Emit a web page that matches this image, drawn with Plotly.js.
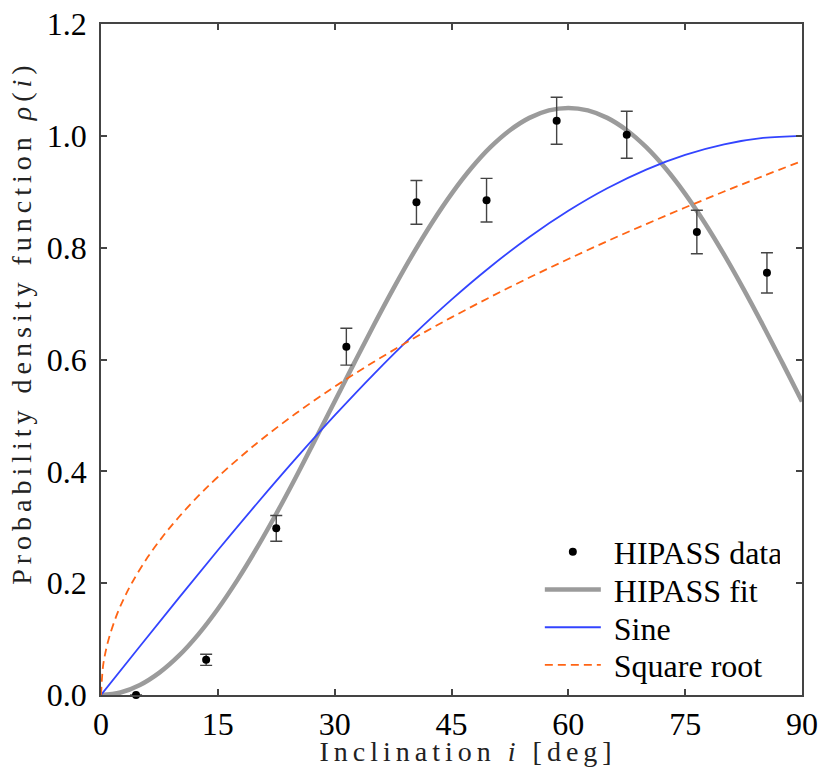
<!DOCTYPE html>
<html>
<head>
<meta charset="utf-8">
<script src="https://cdn.plot.ly/plotly-3.0.1.min.js"></script>
<style>
  html, body { margin: 0; padding: 0; background: #fff; }
  #chart { width: 830px; height: 777px; }
</style>
</head>
<body>
<div id="chart"></div>
<script>
// HIPASS binned data (inclination bin centres, density, 1-sigma error)
const dataIncl = [4.5, 13.5, 22.5, 31.5, 40.5, 49.5, 58.5, 67.5, 76.5, 85.5];
const dataRho  = [0.000, 0.063, 0.298, 0.623, 0.881, 0.885, 1.027, 1.002, 0.828, 0.755];
const dataErr  = [0.000, 0.010, 0.023, 0.033, 0.039, 0.039, 0.042, 0.042, 0.039, 0.036];

// HIPASS fit curve
const fitIncl = [0, 2.5, 5, 7.5, 10, 12.5, 15, 17.5, 20, 22.5, 25, 27.5, 30, 32.5, 35, 37.5,
                 40, 42.5, 45, 47.5, 50, 52.5, 55, 57.5, 60, 62.5, 65, 67.5, 70, 72.5, 75,
                 77.5, 80, 82.5, 85, 87.5, 90];
const fitRho  = [0, 0.0045, 0.0179, 0.0400, 0.0703, 0.1085, 0.1538, 0.2054, 0.2625, 0.3241,
                 0.3891, 0.4565, 0.5250, 0.5935, 0.6609, 0.7259, 0.7875, 0.8446, 0.8962,
                 0.9415, 0.9797, 1.0100, 1.0321, 1.0455, 1.0500, 1.0455, 1.0321, 1.0100,
                 0.9797, 0.9415, 0.8962, 0.8446, 0.7875, 0.7259, 0.6609, 0.5935, 0.5250];

// Sine model
const sineIncl = [0, 5, 10, 15, 20, 25, 30, 35, 40, 45, 50, 55, 60, 65, 70, 75, 80, 85, 90];
const sineRho  = [0, 0.0872, 0.1736, 0.2588, 0.3420, 0.4226, 0.5000, 0.5736, 0.6428, 0.7071,
                  0.7660, 0.8192, 0.8660, 0.9063, 0.9397, 0.9659, 0.9848, 0.9962, 1.0000];

// Square-root model
const sqrtIncl = [0, 0.25, 0.5, 1, 2, 3, 4, 6, 8, 10, 12.5, 15, 20, 25, 30, 35, 40, 45, 50,
                  55, 60, 65, 70, 75, 80, 85, 90];
const sqrtRho  = [0, 0.0503, 0.0712, 0.1007, 0.1424, 0.1744, 0.2013, 0.2466, 0.2847, 0.3183,
                  0.3559, 0.3899, 0.4502, 0.5033, 0.5514, 0.5955, 0.6367, 0.6753, 0.7118,
                  0.7466, 0.7797, 0.8116, 0.8422, 0.8718, 0.9004, 0.9281, 0.9550];

const xTicks = [0, 15, 30, 45, 60, 75, 90];
const yTicks = [0.0, 0.2, 0.4, 0.6, 0.8, 1.0, 1.2];

const serif = 'Liberation Serif';

const traces = [
  {
    x: fitIncl, y: fitRho, mode: 'lines', name: 'HIPASS fit', legendrank: 2,
    line: {color: '#9b9b9b', width: 4.5, shape: 'spline'}
  },
  {
    x: sineIncl, y: sineRho, mode: 'lines', name: 'Sine', legendrank: 3,
    line: {color: '#3344ff', width: 1.8, shape: 'spline'}
  },
  {
    x: sqrtIncl, y: sqrtRho, mode: 'lines', name: 'Square root', legendrank: 4,
    line: {color: '#ff6414', width: 1.8, dash: '8px,5px', shape: 'spline'}
  },
  {
    x: dataIncl, y: dataRho, mode: 'markers', name: 'HIPASS data', legendrank: 1,
    marker: {color: '#000', size: 8},
    cliponaxis: false,
    error_y: {type: 'data', array: dataErr, visible: true, color: '#444', thickness: 1.4, width: 6}
  }
];

function axisBase() {
  return {
    showline: true, linecolor: '#444', linewidth: 1.5, mirror: 'allticks',
    ticks: 'inside', ticklen: 6, tickwidth: 1.5, tickcolor: '#444',
    showgrid: false, zeroline: false,
    tickfont: {family: serif, size: 32, color: '#000'}
  };
}

const layout = {
  width: 830, height: 777,
  margin: {l: 101, r: 28, t: 24, b: 82},
  paper_bgcolor: '#fff', plot_bgcolor: '#fff',
  font: {family: serif, size: 28, color: '#000'},
  showlegend: true,
  xaxis: Object.assign(axisBase(), {
    range: [0, 90], tickvals: xTicks, ticktext: xTicks.map(String), ticklabelstandoff: 0
  }),
  yaxis: Object.assign(axisBase(), {
    range: [0, 1.2], tickvals: yTicks, ticktext: yTicks.map(v => v.toFixed(1)), ticklabelstandoff: 6
  }),
  legend: {
    x: 0.626, xanchor: 'left', y: 0.254, yanchor: 'top',
    bgcolor: 'rgba(0,0,0,0)', borderwidth: 0,
    font: {family: serif, size: 32, color: '#000'},
    itemwidth: 56, tracegroupgap: 0
  },
  annotations: [
    {
      text: 'Inclination <i>i</i> [deg]', xref: 'paper', yref: 'paper',
      x: 0.524, y: -0.0845, xanchor: 'center', yanchor: 'middle', showarrow: false,
      font: {family: serif, size: 28, color: '#222'}
    },
    {
      text: 'Probability density function <i>ρ</i>(<i>i</i>)', xref: 'paper', yref: 'paper',
      x: -0.1135, y: 0.556, xanchor: 'center', yanchor: 'middle', showarrow: false, textangle: -90,
      font: {family: serif, size: 28, color: '#222'}
    }
  ]
};

Plotly.newPlot('chart', traces, layout, {displayModeBar: false}).then(gd => {
  gd.querySelectorAll('.annotation-text').forEach(t => { t.style.letterSpacing = '5px'; });
  // tighten legend row spacing and text gap to match reference
  const items = gd.querySelectorAll('.legend .traces');
  let y0 = null, x0 = 0;
  items.forEach((g, k) => {
    const m = /translate\(([-\d.]+),\s*([-\d.]+)\)/.exec(g.getAttribute('transform') || '');
    if (!m) return;
    if (y0 === null) { x0 = parseFloat(m[1]); y0 = parseFloat(m[2]); }
    g.setAttribute('transform', 'translate(' + x0 + ',' + (y0 + k * 37.7) + ')');
    const t = g.querySelector('.legendtext');
    if (t) t.setAttribute('x', parseFloat(t.getAttribute('x') || 0) + 8);
  });
});
</script>
</body>
</html>
